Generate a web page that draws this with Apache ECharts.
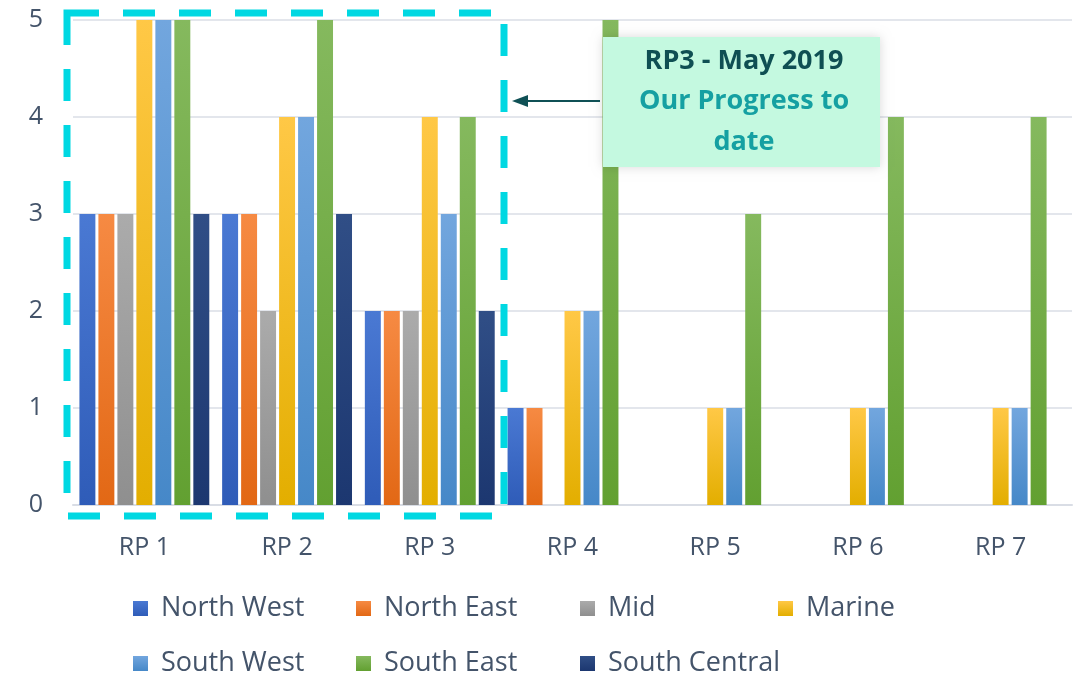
<!DOCTYPE html>
<html>
<head>
<meta charset="utf-8">
<script src="https://cdn.jsdelivr.net/npm/echarts@6/dist/echarts.min.js"></script>
<style>
  html, body { margin: 0; padding: 0; background: #fff; }
  #chart { width: 1076px; height: 674px; }
</style>
</head>
<body>
<div id="chart"></div>
<script>
var categories = ['RP 1', 'RP 2', 'RP 3', 'RP 4', 'RP 5', 'RP 6', 'RP 7'];
var seriesNames = ['North West', 'North East', 'Mid', 'Marine', 'South West', 'South East', 'South Central'];
var northWest = [3, 3, 2, 1, 0, 0, 0];
var northEast = [3, 3, 2, 1, 0, 0, 0];
var mid = [3, 2, 2, 0, 0, 0, 0];
var marine = [5, 4, 4, 2, 1, 1, 1];
var southWest = [5, 4, 3, 2, 1, 1, 1];
var southEast = [5, 5, 4, 5, 3, 4, 4];
var southCentral = [3, 3, 2, 0, 0, 0, 0];
var yTicks = [0, 1, 2, 3, 4, 5];

var chart = echarts.init(document.getElementById('chart'));

var values = [northWest, northEast, mid, marine, southWest, southEast, southCentral];
var colors = [
  ['#4a79d3', '#2f5cb8'],
  ['#f68a43', '#e26815'],
  ['#ababab', '#8f8f8f'],
  ['#ffc846', '#e3ae00'],
  ['#72a6de', '#4688c8'],
  ['#85b95e', '#62a031'],
  ['#304e86', '#1c3770']
];

function grad(c) {
  return new echarts.graphic.LinearGradient(0, 0, 0, 1, [
    { offset: 0, color: c[0] },
    { offset: 1, color: c[1] }
  ]);
}

var series = [];
for (var i = 0; i < seriesNames.length; i++) {
  series.push({
    name: seriesNames[i],
    type: 'bar',
    data: values[i],
    barGap: '19%',
    barCategoryGap: '9%',
    itemStyle: { color: grad(colors[i]) }
  });
}

// one legend per item so the columns line up like the original
var legendLeft = [128, 351, 575, 773, 128, 351, 575];
var legendTop = [590, 590, 590, 590, 645, 645, 645];
var legends = [];
for (var j = 0; j < seriesNames.length; j++) {
  legends.push({
    left: legendLeft[j],
    top: legendTop[j],
    itemWidth: 15,
    itemHeight: 15,
    icon: 'rect',
    data: [seriesNames[j]],
    textStyle: {
      fontSize: 27, color: '#44546a', fontFamily: 'Open Sans',
      padding: [0, 0, 0, 8]
    }
  });
}

var option = {
  animation: false,
  grid: { left: 73, right: 4, top: 20, bottom: 169, containLabel: false },
  legend: legends,
  xAxis: {
    type: 'category',
    data: categories,
    axisTick: { show: false },
    axisLine: { lineStyle: { color: '#d9dde5', width: 2 } },
    axisLabel: { fontSize: 25, color: '#44546a', margin: 30, fontFamily: 'Open Sans' }
  },
  yAxis: {
    type: 'value',
    min: yTicks[0],
    max: yTicks[yTicks.length - 1],
    interval: 1,
    axisLine: { show: false },
    axisTick: { show: false },
    splitLine: { lineStyle: { color: '#e3e6ec', width: 2 } },
    axisLabel: { fontSize: 25, color: '#44546a', margin: 30, fontFamily: 'Open Sans' }
  },
  series: series,
  graphic: [
    {
      type: 'rect',
      z: 100,
      shape: { x: 67, y: 13, width: 437, height: 503 },
      style: {
        fill: null,
        stroke: '#00d8e2',
        lineWidth: 7,
        lineDash: [32, 24]
      }
    },
    {
      type: 'rect',
      z: 100,
      shape: { x: 603, y: 37, width: 277, height: 130 },
      style: {
        fill: '#c4f9e0',
        shadowBlur: 10,
        shadowColor: 'rgba(0,0,0,0.15)'
      }
    },
    {
      type: 'text',
      z: 101,
      style: {
        x: 744, y: 61,
        text: 'RP3 - May 2019',
        align: 'center',
        verticalAlign: 'middle',
        fontSize: 27,
        fontWeight: 'bold',
        fontFamily: 'Open Sans',
        fill: '#0f4f53'
      }
    },
    {
      type: 'text',
      z: 101,
      style: {
        x: 744, y: 122,
        text: 'Our Progress to\ndate',
        align: 'center',
        verticalAlign: 'middle',
        fontSize: 27,
        lineHeight: 41,
        fontWeight: 'bold',
        fontFamily: 'Open Sans',
        fill: '#15a0a2'
      }
    },
    {
      type: 'line',
      z: 101,
      shape: { x1: 600, y1: 101, x2: 524, y2: 101 },
      style: { stroke: '#0f5055', lineWidth: 2 }
    },
    {
      type: 'polygon',
      z: 101,
      shape: { points: [[512, 101], [528, 95], [528, 107]] },
      style: { fill: '#0f5055' }
    }
  ]
};

chart.setOption(option);
</script>
</body>
</html>
